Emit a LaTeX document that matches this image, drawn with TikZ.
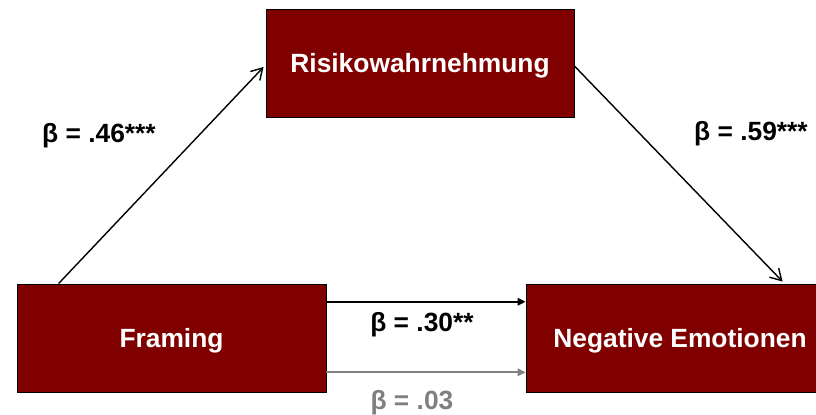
\documentclass[tikz,border=0pt]{standalone}
\usepackage{fontspec}
\setmainfont{Liberation Sans}
\usepackage{xcolor}
\usepackage{tikz}
\usetikzlibrary{positioning, calc, arrows.meta}

\definecolor{boxred}{RGB}{128,0,0}
\definecolor{pathgrey}{RGB}{128,128,128}

\begin{document}
\begin{tikzpicture}[x=0.02cm, y=-0.02cm,
    every node/.style={font=\fontsize{15}{18}\selectfont\bfseries},
    varbox/.style={draw=black, line width=0.5pt, rectangle, fill=boxred, text=white, minimum height=2.16cm, inner sep=0pt, text height=0.5cm, text depth=0.11cm},
    diagpath/.style={line width=0.8pt, -{Straight Barb[length=0.22cm, width=0.26cm, line width=0.8pt]}},
    flatpath/.style={line width=0.9pt, -{Triangle[length=0.16cm, width=0.15cm]}}]
      \useasboundingbox (0, 0) rectangle (816, 415);

      % boxes
      \node[varbox, minimum width=6.16cm] (risk) at (420, 63) {Risikowahrnehmung};
      \node[varbox, minimum width=6.18cm] (frame) at (171.5, 338) {Framing};
      \node[varbox, minimum width=6.16cm] (neg) at (680, 338) {Negative Emotionen};

      % paths
      \draw[diagpath] ($(frame.north west)+(42, 0)$) -- ($(risk.west)+(-2, 4)$);
      \draw[diagpath] ($(risk.east)+(0, 3)$) -- ($(neg.north west)+(257, -2)$);
      \draw[flatpath] ($(frame.north east)!0.167!(frame.south east)$) -- ($(neg.north west)!0.167!(neg.south west)$);
      \draw[flatpath, pathgrey] ($(frame.north east)!0.815!(frame.south east)$) -- ($(neg.north west)!0.815!(neg.south west)$);

      \node (b1) at (99, 136) {β = .46***};
      \node (b2) at (751, 134) {β = .59***};
      \node (b3) at (422, 325) {β = .30**};
      \node[text=pathgrey] (b4) at (412, 403) {β = .03};
    \end{tikzpicture}
\end{document}
